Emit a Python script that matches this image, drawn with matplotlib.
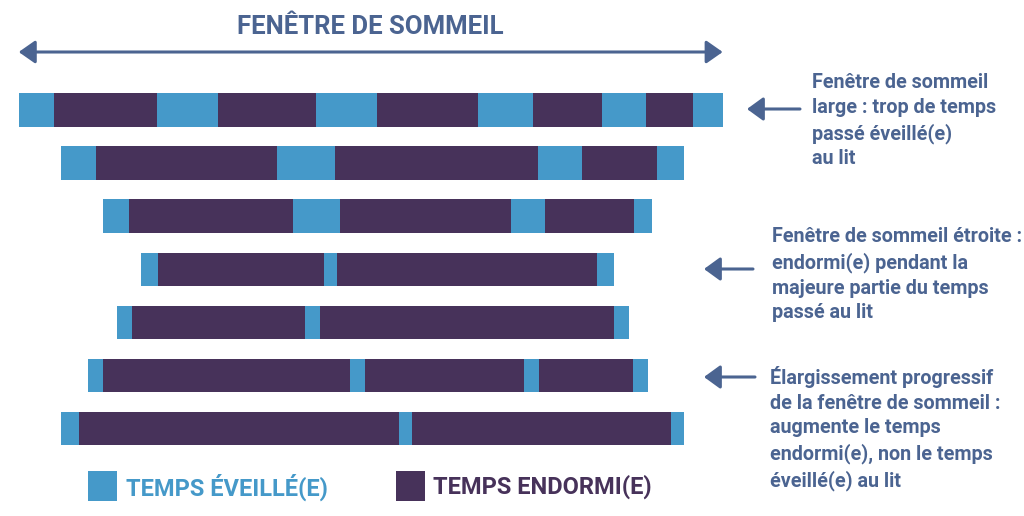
import matplotlib.pyplot as plt
from matplotlib.patches import Rectangle

# Couleurs
BLEU = '#4599c9'
VIOLET = '#47325a'
ARDOISE = '#4b6491'
POLICE = ['Roboto', 'DejaVu Sans']

# Chaque nuit : début de la fenêtre puis durées alternées (éveillé, endormi, éveillé, ...)
debuts = [0, 42, 84, 122, 98, 69, 42]
durees = [
    [35, 103, 61, 98, 61, 101, 55, 69, 44, 47, 30],
    [35, 181, 58, 203, 44, 75, 27],
    [26, 164, 47, 171, 34, 89, 18],
    [17, 166, 13, 260, 17],
    [15, 173, 15, 294, 15],
    [15, 247, 15, 159, 15, 94, 15],
    [18, 320, 13, 259, 13],
]

titre = "FENÊTRE DE SOMMEIL"
notes = [
    "Fenêtre de sommeil\nlarge : trop de temps\npassé éveillé(e)\nau lit",
    "Fenêtre de sommeil étroite :\nendormi(e) pendant la\nmajeure partie du temps\npassé au lit",
    "Élargissement progressif\nde la fenêtre de sommeil :\naugmente le temps\nendormi(e), non le temps\néveillé(e) au lit",
]
legende = ["TEMPS ÉVEILLÉ(E)", "TEMPS ENDORMI(E)"]

fig = plt.figure(figsize=(10.24, 5.16), dpi=100)
ax = fig.add_axes([0, 0, 1, 1])
ax.set_xlim(-18.7, 1024 - 18.7)
ax.set_ylim((516 - 110) / 53.08, -110 / 53.08)
ax.axis('off')

for i, (d0, segs) in enumerate(zip(debuts, durees)):
    gauche = d0
    for j, d in enumerate(segs):
        ax.barh(i, d, left=gauche, height=0.63,
                color=BLEU if j % 2 == 0 else VIOLET, linewidth=0)
        gauche += d

# flèche de la fenêtre (largeur de la première nuit)
fin1 = debuts[0] + sum(durees[0])
y_fl = -58 / 53.08
ax.annotate('', xy=(debuts[0], y_fl), xytext=(fin1, y_fl),
            arrowprops=dict(arrowstyle='<|-|>,head_length=0.5,head_width=0.35',
                            mutation_scale=20, color=ARDOISE, lw=2.2,
                            shrinkA=0, shrinkB=0))

# couche de texte en pixels
ov = fig.add_axes([0, 0, 1, 1])
ov.set_xlim(0, 1024)
ov.set_ylim(516, 0)
ov.axis('off')
ov.patch.set_alpha(0)

ov.text(370, 27, titre, ha='center', va='center', fontsize=18.5,
        fontweight='bold', color=ARDOISE, family=POLICE)

pos_notes = [(812, 73), (772, 227), (770, 366)]
pos_fleches = [(800, 747, 109), (753, 704, 269), (755, 704, 377)]
for txt, (x, y) in zip(notes, pos_notes):
    ov.text(x, y, txt, ha='left', va='top', fontsize=14.2, fontweight='bold',
            color=ARDOISE, linespacing=1.38, family=POLICE)
for x0, x1, y in pos_fleches:
    ov.annotate('', xy=(x1, y), xytext=(x0, y),
                arrowprops=dict(arrowstyle='-|>,head_length=0.55,head_width=0.4',
                                mutation_scale=18, color=ARDOISE, lw=2.2,
                                shrinkA=0, shrinkB=0))

# légende
for (xc, xt), lab, c in zip([(88, 126), (396, 433)], legende, [BLEU, VIOLET]):
    ov.add_patch(Rectangle((xc, 471), 29, 30, color=c, lw=0))
    ov.text(xt, 487, lab, ha='left', va='center', fontsize=17,
            fontweight='bold', color=c, family=POLICE)

fig.savefig('out.png', dpi=100)
